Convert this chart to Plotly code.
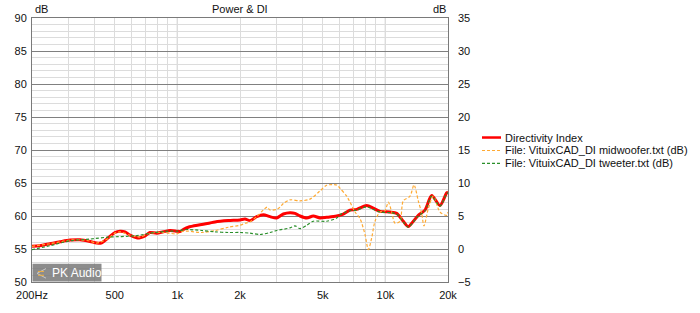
import plotly.graph_objects as go

# ---- data (frequency in Hz, directivity in dB, right axis scale) ----
di_freq = [200, 218, 244, 273, 305, 340, 380, 409, 433, 465, 501, 530, 560, 592, 637, 661, 700, 738,
           795, 856, 922, 993, 1030, 1068, 1128, 1309, 1517, 1757, 2000, 2114, 2234, 2406, 2589, 2788,
           3002, 3231, 3479, 3676, 3887, 4186, 4502, 4850, 5223, 5834, 6275, 6760, 7280, 8130, 8750,
           9423, 10520, 11336, 12193, 12880, 13626, 14393, 15500, 16700, 18300, 19716, 20000]
di_vals = [0.4, 0.5, 0.8, 1.1, 1.35, 1.4, 1.15, 0.9, 0.95, 1.7, 2.5, 2.7, 2.6, 2.1, 1.7, 1.7, 2.0, 2.5,
           2.4, 2.6, 2.8, 2.7, 2.65, 2.95, 3.3, 3.7, 4.1, 4.3, 4.4, 4.55, 4.3, 4.9, 5.2, 4.9,
           4.7, 5.3, 5.5, 5.4, 5.0, 4.7, 5.0, 4.7, 4.8, 5.0, 5.3, 5.9, 6.0, 6.6, 6.2,
           5.7, 5.6, 5.4, 4.2, 3.4, 4.2, 5.1, 5.9, 8.1, 6.6, 8.5, 8.6]

mid_freq = [200, 244, 305, 340, 380, 409, 465, 501, 530, 592, 661, 738, 856, 993, 1068, 1128, 1309,
            1517, 1757, 2000, 2114, 2234, 2406, 2589, 2700, 2788, 3002, 3115, 3231, 3479, 3887, 4341,
            4850, 5223, 5834, 6052, 6517, 6760, 7145, 7551, 7981, 8281, 8596, 8915, 9423, 9954, 10328,
            10722, 11125, 11750, 12193, 13134, 13730, 14393, 14946, 15330, 16078, 16998, 18300, 19716, 20000]
mid_vals = [0.4, 0.8, 1.35, 1.4, 1.2, 0.9, 1.6, 2.4, 2.6, 2.1, 1.8, 2.4, 2.5, 2.3, 2.7, 2.7, 2.5,
            2.8, 3.3, 3.6, 3.9, 4.1, 4.9, 5.9, 6.35, 5.9, 6.0, 6.35, 6.9, 7.45, 7.3, 7.55,
            8.8, 9.65, 9.7, 9.2, 8.0, 7.1, 5.6, 4.6, 2.2, -0.1, 1.7, 4.2, 5.6, 5.8, 7.1,
            5.6, 3.9, 4.2, 7.3, 8.0, 9.7, 7.3, 5.4, 3.5, 6.1, 8.0, 5.6, 5.1, 5.6]

tw_freq = [200, 244, 305, 380, 465, 626, 780, 906, 1000, 1090, 1309, 1517, 1757, 2000, 2234, 2497,
           2788, 3002, 3479, 3676, 3887, 4186, 4502, 5223, 5834, 6052, 6760, 7280, 8130, 8750, 9423,
           10520, 11336, 12193, 12880, 13626, 14393, 15500, 16700, 18300, 19716, 20000]
tw_vals = [-0.1, 0.5, 1.25, 1.5, 1.8, 2.0, 2.5, 2.7, 2.7, 2.95, 2.8, 2.6, 2.5, 2.5, 2.4, 2.2,
           2.5, 2.8, 3.2, 3.5, 3.1, 3.6, 4.2, 4.2, 4.7, 5.2, 5.8, 5.9, 6.4, 6.0, 5.6,
           5.5, 5.3, 4.1, 3.3, 4.1, 5.0, 5.8, 8.0, 6.5, 8.4, 8.5]

x_tickvals = [200, 500, 1000, 2000, 5000, 10000, 20000]
x_ticktext = ["200Hz", "500", "1k", "2k", "5k", "10k", "20k"]
x_minor = [m * d for d in (100, 1000, 10000) for m in range(1, 10) if 200 <= m * d <= 20000]
x_dark = [1000, 10000]

series_names = ["Directivity Index", "File: VituixCAD_DI midwoofer.txt (dB)",
                "File: VituixCAD_DI tweeter.txt (dB)"]
series_colors = ["#FF0000", "#FFAA33", "#2A8F2A"]

FONT = "Liberation Sans, Arial, sans-serif"
TXT = "#111111"

fig = go.Figure()
# empty trace that anchors the left (SPL) axis
fig.add_trace(go.Scatter(x=[None], y=[None], mode="lines", hoverinfo="skip", showlegend=False))
fig.add_trace(go.Scatter(x=di_freq, y=di_vals, yaxis="y2", mode="lines",
                         line=dict(color=series_colors[0], width=3, shape="spline", smoothing=0.8),
                         name=series_names[0], showlegend=False))
fig.add_trace(go.Scatter(x=mid_freq, y=mid_vals, yaxis="y2", mode="lines",
                         line=dict(color=series_colors[1], width=1.2, dash="3px,2px", shape="spline", smoothing=0.8),
                         name=series_names[1], showlegend=False))
fig.add_trace(go.Scatter(x=tw_freq, y=tw_vals, yaxis="y2", mode="lines",
                         line=dict(color=series_colors[2], width=1.2, dash="3px,2px", shape="spline", smoothing=0.8),
                         name=series_names[2], showlegend=False))

L, R, T, B = 32, 252, 18, 20
W, H = 700, 313
pw, ph = W - L - R, H - T - B

fig.update_layout(
    width=W, height=H,
    margin=dict(l=L, r=R, t=T, b=B, pad=0),
    paper_bgcolor="white", plot_bgcolor="white",
    font=dict(family=FONT, size=11, color=TXT),
    xaxis=dict(type="log", range=[2.30103, 4.30103], tickvals=x_tickvals, ticktext=x_ticktext,
               showgrid=True, gridcolor="#DCDCDC", gridwidth=1,
               minor=dict(tickvals=x_minor, showgrid=True, gridcolor="#DCDCDC", gridwidth=1, ticks=""),
               showline=True, linecolor="#7A7A7A", linewidth=1, mirror=True,
               ticks="", ticklabelstandoff=3, zeroline=False,
               tickfont=dict(family=FONT, size=11, color=TXT)),
    yaxis=dict(range=[50, 90], dtick=5, tick0=50, showgrid=True, gridcolor="#808080", gridwidth=1,
               minor=dict(dtick=1, showgrid=True, gridcolor="#DCDCDC", gridwidth=1, ticks=""),
               showline=True, linecolor="#7A7A7A", linewidth=1, mirror=True,
               ticks="", ticklabelstandoff=2, zeroline=False,
               tickfont=dict(family=FONT, size=11, color=TXT)),
    yaxis2=dict(range=[-5, 35], dtick=5, tick0=-5, overlaying="y", side="right",
                showgrid=False, zeroline=False, showline=False, ticks="",
                ticklabelstandoff=9,
                tickfont=dict(family=FONT, size=11, color=TXT)),
    showlegend=False,
)

def px_x(px):
    return (px - L) / pw

def px_y(py):
    return (H - B - py) / ph

annotations = [
    dict(text="Power &amp; DI", x=px_x(240), y=px_y(8.5), xanchor="center", yanchor="middle"),
    dict(text="dB", x=px_x(34), y=px_y(9), xanchor="left", yanchor="middle"),
    dict(text="dB", x=px_x(447), y=px_y(9), xanchor="right", yanchor="middle"),
]
shapes = []

# darker decade grid lines (1k, 10k)
for xv in x_dark:
    shapes.append(dict(type="line", xref="x", yref="paper", x0=xv, x1=xv, y0=0, y1=1,
                       line=dict(color="#808080", width=1), layer="between"))

# custom legend
legend_rows = [142.5, 156, 169.5]
widths = [2.5, 1.2, 1.2]
dashes = ["solid", "3px,2px", "3px,2px"]
for name, col, wdt, dsh, ry in zip(series_names, series_colors, widths, dashes, legend_rows):
    shapes.append(dict(type="line", xref="paper", yref="paper", x0=px_x(482), x1=px_x(501),
                       y0=px_y(ry), y1=px_y(ry), line=dict(color=col, width=wdt, dash=dsh)))
    annotations.append(dict(text=name, x=px_x(504), y=px_y(ry), xanchor="left", yanchor="middle"))

# watermark box
shapes.append(dict(type="rect", xref="paper", yref="paper", x0=px_x(32.5), x1=px_x(101.5),
                   y0=px_y(292.5), y1=px_y(274), fillcolor="rgba(120,120,120,0.85)",
                   line=dict(width=0), layer="above"))
for (xa, ya, xb, yb, c) in [(37, 284, 46, 279, "#C8C8C8"), (37, 284, 46, 289, "#C8C8C8"),
                            (38, 282, 44, 282, "#F0B040"), (38, 286, 44, 286, "#F0B040")]:
    shapes.append(dict(type="line", xref="paper", yref="paper", x0=px_x(xa), x1=px_x(xb),
                       y0=px_y(ya), y1=px_y(yb), line=dict(color=c, width=1), layer="above"))
annotations.append(dict(text="PK Audio", x=px_x(51), y=px_y(283.5), xanchor="left", yanchor="middle",
                        font=dict(family=FONT, size=12, color="white")))

for a in annotations:
    a.setdefault("xref", "paper")
    a.setdefault("yref", "paper")
    a.setdefault("showarrow", False)
    a.setdefault("font", dict(family=FONT, size=11, color=TXT))
    a["borderpad"] = 0

fig.update_layout(annotations=annotations, shapes=shapes)
fig.write_html("out.html")
